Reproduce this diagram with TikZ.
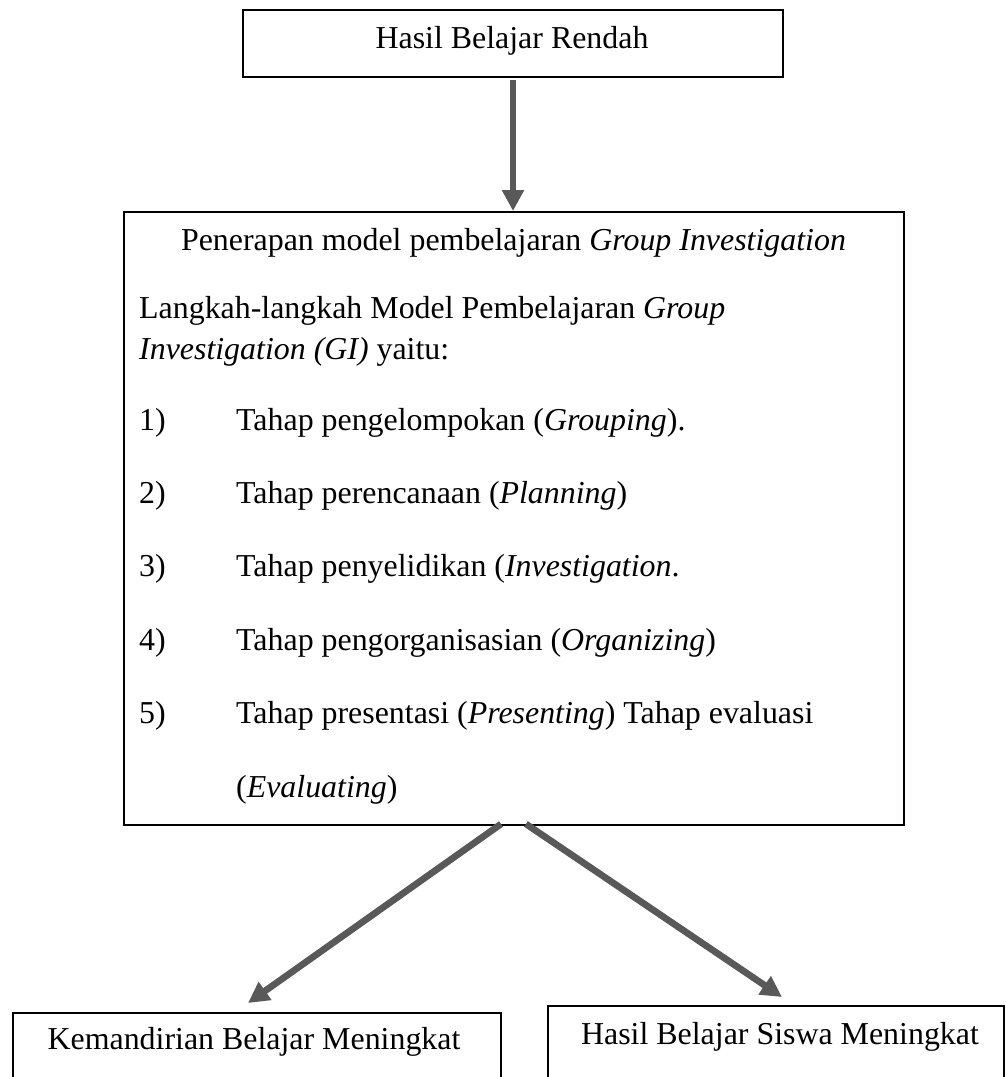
\documentclass[tikz,border=0pt]{standalone}
\usepackage{fontspec}
\setmainfont{Liberation Serif}
\usetikzlibrary{arrows.meta}
\definecolor{arrowgray}{RGB}{89,89,89}
\begin{document}
\begin{tikzpicture}[x=1pt,y=-1pt,
  box/.style={draw=black,line width=2pt,inner sep=0pt,anchor=north west},
  txt/.style={inner sep=0pt,font=\fontsize{31.9}{38}\selectfont},
  flow/.style={draw=arrowgray,line width=6.7pt,-{Triangle[width=21pt,length=21pt]}}]
\useasboundingbox (0,0) rectangle (1005,1077);
\fill[white] (0,0) rectangle (1005,1077);
% boxes
\node[box,minimum width=540pt,minimum height=67pt] (top) at (242,9) {};
\node[box,minimum width=780pt,minimum height=613pt] (main) at (123,211) {};
\node[box,minimum width=488.5pt,minimum height=110pt] (left) at (11.5,1012) {};
\node[box,minimum width=456pt,minimum height=110pt] (right) at (547,1005) {};
% texts
\node[txt,anchor=base] (ttop) at (512,48) {Hasil Belajar Rendah};
\node[txt,anchor=base] (tpen) at (513.5,250) {Penerapan model pembelajaran \textit{Group Investigation}};
\node[txt,anchor=base west] (tl1) at (139,318) {Langkah-langkah Model Pembelajaran \textit{Group}};
\node[txt,anchor=base west] (tl2) at (139,359) {\textit{Investigation (GI)} yaitu:};
\node[txt,anchor=base west] (n1) at (139,430) {1)};
\node[txt,anchor=base west] (s1) at (236,430) {Tahap pengelompokan (\textit{Grouping}).};
\node[txt,anchor=base west] (n2) at (139,503.4) {2)};
\node[txt,anchor=base west] (s2) at (236,503.4) {Tahap perencanaan (\textit{Planning})};
\node[txt,anchor=base west] (n3) at (139,576.8) {3)};
\node[txt,anchor=base west] (s3) at (236,576.8) {Tahap penyelidikan (\textit{Investigation}.};
\node[txt,anchor=base west] (n4) at (139,650.2) {4)};
\node[txt,anchor=base west] (s4) at (236,650.2) {Tahap pengorganisasian (\textit{Organizing})};
\node[txt,anchor=base west] (n5) at (139,723.6) {5)};
\node[txt,anchor=base west] (s5) at (236,723.6) {Tahap presentasi (\textit{Presenting}) Tahap evaluasi};
\node[txt,anchor=base west] (s6) at (236,797) {(\textit{Evaluating})};
\node[txt,anchor=base] (tleft) at (254,1049) {Kemandirian Belajar Meningkat};
\node[txt,anchor=base] (tright) at (780,1044) {Hasil Belajar Siswa Meningkat};
% connectors
\coordinate (ms1) at (501,824);
\coordinate (ms2) at (526,824);
\coordinate (lt) at (248,1003);
\coordinate (rt) at (782,997);
\draw[flow] ([yshift=-2pt]top.south) -- (top.south |- main.north);
\draw[flow] (ms1) -- (lt);
\draw[flow] (ms2) -- (rt);
\end{tikzpicture}
\end{document}
